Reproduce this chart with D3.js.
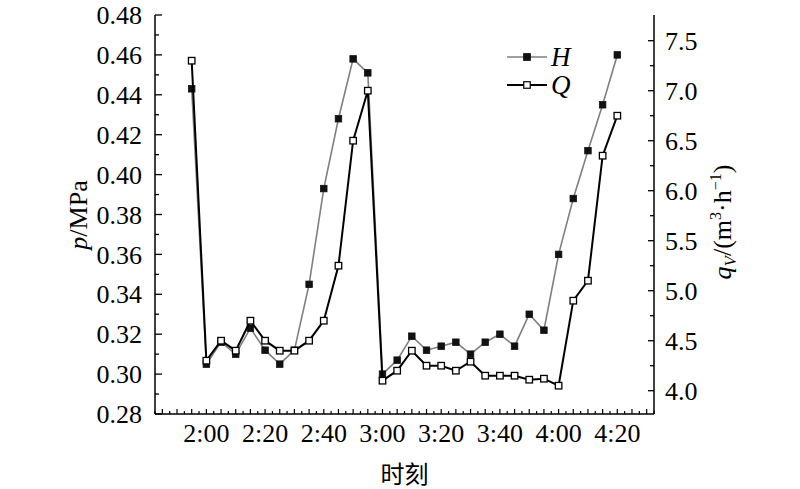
<!DOCTYPE html>
<html>
<head>
<meta charset="utf-8">
<script src="https://cdn.jsdelivr.net/npm/d3@7"></script>
<style>
  html, body { margin: 0; padding: 0; background: #fff; }
  svg { display: block; }
</style>
</head>
<body>
<svg id="chart" width="800" height="489"></svg>
<script>
// ---- data ----
const times = ["1:55","2:00","2:05","2:10","2:15","2:20","2:25","2:30","2:35","2:40",
               "2:45","2:50","2:55","3:00","3:05","3:10","3:15","3:20","3:25","3:30",
               "3:35","3:40","3:45","3:50","3:55","4:00","4:05","4:10","4:15","4:20"];
const H = [0.443, 0.305, 0.316, 0.310, 0.323, 0.312, 0.305, 0.312, 0.345, 0.393,
           0.428, 0.458, 0.451, 0.300, 0.307, 0.319, 0.312, 0.314, 0.316, 0.310,
           0.316, 0.320, 0.314, 0.330, 0.322, 0.360, 0.388, 0.412, 0.435, 0.460];
const Q = [7.30, 4.30, 4.50, 4.40, 4.70, 4.50, 4.40, 4.40, 4.50, 4.70,
           5.25, 6.50, 7.00, 4.10, 4.20, 4.40, 4.25, 4.25, 4.20, 4.29,
           4.15, 4.15, 4.15, 4.11, 4.12, 4.05, 4.90, 5.10, 6.35, 6.75];
const xTickLabels = ["2:00","2:20","2:40","3:00","3:20","3:40","4:00","4:20"];
const leftTicks = [0.28,0.30,0.32,0.34,0.36,0.38,0.40,0.42,0.44,0.46,0.48];
const rightTicks = [4.0,4.5,5.0,5.5,6.0,6.5,7.0,7.5];

const toMin = s => { const [h, m] = s.split(":").map(Number); return h * 60 + m; };

// ---- layout ----
const L = 155, R = 654, T = 15, B = 414;
const serif = "'Liberation Serif', 'Times New Roman', serif";
const svg = d3.select("#chart");

const x = d3.scaleLinear().domain([102.5, 272.5]).range([L, R]);
const yL = d3.scaleLinear().domain([0.28, 0.48]).range([B, T]);
const yR = d3.scaleLinear().domain([3.767, 7.757]).range([B, T]);

const axisColor = "#000";
// left axis
const gl = svg.append("g").attr("transform", `translate(${L},0)`);
gl.append("line").attr("x1",0).attr("x2",0).attr("y1",T).attr("y2",B).attr("stroke",axisColor).attr("stroke-width",1.5);
yL.ticks(20).forEach((v, i) => {
  const major = i % 2 === 0;
  gl.append("line").attr("x1",0).attr("x2", major ? 7 : 4)
    .attr("y1", yL(v)).attr("y2", yL(v)).attr("stroke",axisColor).attr("stroke-width",1.3);
});
leftTicks.forEach(v => {
  gl.append("text").attr("x",-13).attr("y",yL(v)).attr("dy","0.35em")
    .attr("text-anchor","end").attr("font-family",serif).attr("font-size",26).attr("fill","#000")
    .text(v.toFixed(2));
});

// right axis
const gr = svg.append("g").attr("transform", `translate(${R},0)`);
gr.append("line").attr("x1",0).attr("x2",0).attr("y1",T).attr("y2",B).attr("stroke",axisColor).attr("stroke-width",1.5);
d3.range(0, 16).forEach(i => {
  const v = 3.75 + i * 0.25;
  if (yR(v) > B + 0.5 || yR(v) < T - 0.5) return;
  const major = i % 2 === 1;
  gr.append("line").attr("x1",0).attr("x2", major ? -6 : -4)
    .attr("y1", yR(v)).attr("y2", yR(v)).attr("stroke",axisColor).attr("stroke-width",1.3);
});
rightTicks.forEach(v => {
  gr.append("text").attr("x",11).attr("y",yR(v)).attr("dy","0.35em")
    .attr("text-anchor","start").attr("font-family",serif).attr("font-size",26).attr("fill","#000")
    .text(v.toFixed(1));
});

// bottom axis
const gb = svg.append("g");
gb.append("line").attr("x1",L).attr("x2",R).attr("y1",B).attr("y2",B).attr("stroke",axisColor).attr("stroke-width",1.5);
d3.range(0, 69).forEach(i => {
  const m = 102.5 + i * 2.5;
  if (m > 272.5) return;
  const big = (m % 5 === 0);
  gb.append("line").attr("x1",x(m)).attr("x2",x(m)).attr("y1",B).attr("y2",B - (big ? 5 : 3))
    .attr("stroke",axisColor).attr("stroke-width",1.2);
});
xTickLabels.forEach(s => {
  gb.append("text").attr("x",x(toMin(s))).attr("y",442)
    .attr("text-anchor","middle").attr("font-family",serif).attr("font-size",26).text(s);
});

// axis titles
svg.append("text").attr("x",x((102.5+272.5)/2)).attr("y",483).attr("text-anchor","middle")
  .attr("font-family","'Noto Sans CJK SC', sans-serif").attr("font-size",24).text("时刻");

const lt = svg.append("text").attr("transform","translate(87,215) rotate(-90)")
  .attr("text-anchor","middle").attr("font-family",serif).attr("font-size",26);
lt.append("tspan").attr("font-style","italic").text("p");
lt.append("tspan").text("/MPa");

const rt = svg.append("text").attr("transform","translate(731,222) rotate(-90)")
  .attr("text-anchor","middle").attr("font-family",serif).attr("font-size",26);
rt.append("tspan").attr("font-style","italic").text("q");
rt.append("tspan").attr("font-style","italic").attr("font-size",17).attr("dy",5).text("V");
rt.append("tspan").attr("dy",-5).text("/(m");
rt.append("tspan").attr("font-size",16).attr("dy",-10).text("3");
rt.append("tspan").attr("dy",10).text("·h");
rt.append("tspan").attr("font-size",16).attr("dy",-10).text("−1");
rt.append("tspan").attr("dy",10).text(")");

// ---- series ----
const dataH = times.map((t, i) => ({ t: toMin(t), v: H[i] }));
const dataQ = times.map((t, i) => ({ t: toMin(t), v: Q[i] }));
const lineH = d3.line().x(d => x(d.t)).y(d => yL(d.v));
const lineQ = d3.line().x(d => x(d.t)).y(d => yR(d.v));
const ms = 6.5;

svg.append("path").datum(dataH).attr("d", lineH).attr("fill","none")
  .attr("stroke","#7f7f7f").attr("stroke-width",1.6);
svg.append("g").selectAll("rect").data(dataH).join("rect")
  .attr("x", d => x(d.t) - ms/2).attr("y", d => yL(d.v) - ms/2)
  .attr("width", ms).attr("height", ms).attr("fill","#111").attr("stroke","#111").attr("stroke-width",0.8);

svg.append("path").datum(dataQ).attr("d", lineQ).attr("fill","none")
  .attr("stroke","#000").attr("stroke-width",2);
svg.append("g").selectAll("rect").data(dataQ).join("rect")
  .attr("x", d => x(d.t) - ms/2).attr("y", d => yR(d.v) - ms/2)
  .attr("width", ms).attr("height", ms).attr("fill","#fff").attr("stroke","#000").attr("stroke-width",1.3);

// ---- legend ----
const lg = svg.append("g");
const legendItems = [
  { name: "H", y: 57, stroke: "#7f7f7f", sw: 1.6, fill: "#111" },
  { name: "Q", y: 85, stroke: "#000", sw: 2, fill: "#fff" }
];
legendItems.forEach(it => {
  lg.append("line").attr("x1",507).attr("x2",547).attr("y1",it.y).attr("y2",it.y)
    .attr("stroke",it.stroke).attr("stroke-width",it.sw);
  lg.append("rect").attr("x",527 - ms/2).attr("y",it.y - ms/2).attr("width",ms).attr("height",ms)
    .attr("fill",it.fill).attr("stroke", it.fill === "#fff" ? "#000" : "#111").attr("stroke-width",1.2);
  lg.append("text").attr("x",551).attr("y",it.y + 9).attr("font-family",serif)
    .attr("font-style","italic").attr("font-size",27).text(it.name);
});
</script>
</body>
</html>
